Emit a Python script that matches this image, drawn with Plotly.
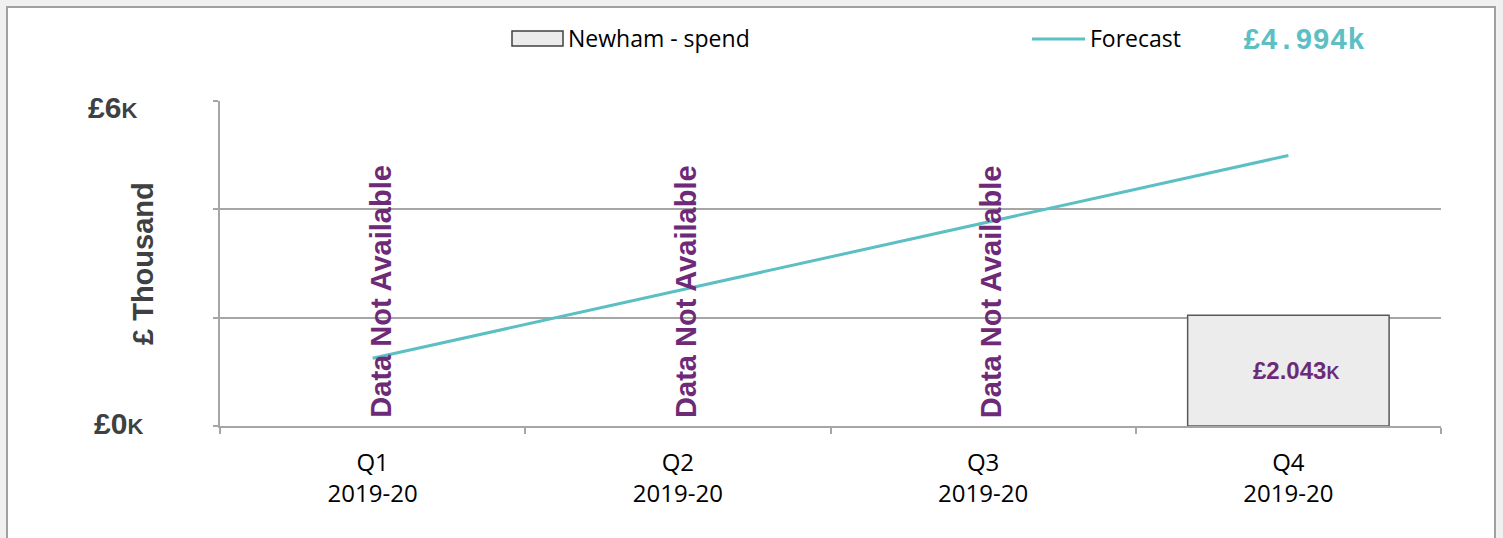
import plotly.graph_objects as go

# ---- data ----
quarters = ["Q1", "Q2", "Q3", "Q4"]
period = "2019-20"
spend = [None, None, None, 2.043]          # £ thousand
forecast = [1.25, 2.50, 3.75, 4.994]       # £ thousand
y_tick_vals = [0, 6]
y_grid_vals = [0, 2, 4, 6]

categories = [f"{q}<br>{period}" for q in quarters]

PURPLE = "#6e2a77"
TEAL = "#5bbfc4"
GRID = "#a6a6a6"
DARK = "#404040"
SANS = "Liberation Sans, Arial, sans-serif"

# plot-area pixel geometry helpers
L, W, T, H = 220, 1221, 101, 325
def px(x):
    return (x - L) / W
def py(y):
    return (T + H - y) / H

fig = go.Figure()

fig.add_trace(go.Bar(
    x=categories, y=spend, width=0.66,
    marker=dict(color="#ececec", line=dict(color="#595959", width=1.5)),
    showlegend=False, hoverinfo="skip",
))
fig.add_trace(go.Scatter(
    x=categories, y=forecast, mode="lines",
    line=dict(color=TEAL, width=3),
    showlegend=False, hoverinfo="skip",
))

annotations = []
shapes = []

# outer frame
shapes.append(dict(type="rect", xref="paper", yref="paper",
                   x0=px(7), x1=px(1495), y0=py(560), y1=py(7),
                   fillcolor="white", line=dict(color="#a0a0a0", width=2),
                   layer="below"))

# "Data Not Available" / value labels
for c, v in zip(categories, spend):
    if v is None:
        annotations.append(dict(
            x=c, y=0, xref="x", yref="y", text="<b>Data Not Available</b>",
            textangle=-90, showarrow=False, xanchor="center", yanchor="bottom",
            xshift=8, yshift=6,
            font=dict(family=SANS, size=29, color=PURPLE)))
    else:
        annotations.append(dict(
            x=c, y=v / 2, xref="x", yref="y",
            text=f"<b>£{v:.3f}<span style='font-size:18px'>K</span></b>",
            showarrow=False, xanchor="center", yanchor="middle", xshift=8,
            font=dict(family=SANS, size=24, color=PURPLE)))

# y tick labels
for v in y_tick_vals:
    annotations.append(dict(
        x=px(145 if v == 0 else 139), y=v, xref="paper", yref="y",
        text=f"<b>£{v}<span style='font-size:22px'>K</span></b>",
        showarrow=False, xanchor="right", yanchor="middle",
        yshift=-6 if v == 6 else 3,
        font=dict(family=SANS, size=30, color=DARK)))

# y title
annotations.append(dict(
    x=px(143), y=py(264), xref="paper", yref="paper",
    text="<b>£ Thousand</b>", textangle=-90, showarrow=False,
    xanchor="center", yanchor="middle",
    font=dict(family=SANS, size=29, color=DARK)))

# manual legend
shapes.append(dict(type="rect", xref="paper", yref="paper",
                   x0=px(512), x1=px(563), y0=py(46), y1=py(31),
                   fillcolor="#ececec", line=dict(color=DARK, width=1.5)))
annotations.append(dict(x=px(566), y=py(38), xref="paper", yref="paper",
                        text="Newham - spend", showarrow=False,
                        xanchor="left", yanchor="middle",
                        font=dict(family="Open Sans", size=23, color="black")))
shapes.append(dict(type="line", xref="paper", yref="paper",
                   x0=px(1032), x1=px(1085), y0=py(39), y1=py(39),
                   line=dict(color=TEAL, width=3)))
annotations.append(dict(x=px(1088), y=py(38), xref="paper", yref="paper",
                        text="Forecast", showarrow=False,
                        xanchor="left", yanchor="middle",
                        font=dict(family="Open Sans", size=23, color="black")))
annotations.append(dict(x=px(1241), y=py(41), xref="paper", yref="paper",
                        text=f"<b>£{forecast[-1]:.3f}k</b>", showarrow=False,
                        xanchor="left", yanchor="middle",
                        font=dict(family="Liberation Mono, DejaVu Sans Mono, monospace",
                                  size=29, color=TEAL)))

fig.update_layout(
    width=1503, height=538,
    margin=dict(l=L, r=1503 - L - W, t=T, b=538 - T - H),
    paper_bgcolor="#f0f0f0",
    plot_bgcolor="rgba(0,0,0,0)",
    showlegend=False,
    annotations=annotations,
    shapes=shapes,
    xaxis=dict(
        type="category", showgrid=False, showline=True, linecolor=GRID, linewidth=1.5,
        ticks="outside", tickson="boundaries", ticklen=6, tickcolor=GRID, tickwidth=1.5,
        tickfont=dict(family="Open Sans", size=24, color="black"),
        ticklabelstandoff=14,
        zeroline=False,
    ),
    yaxis=dict(
        range=[0, 6], tickvals=y_grid_vals, showticklabels=False,
        showgrid=True, gridcolor=GRID, gridwidth=1.5,
        showline=True, linecolor=GRID, linewidth=1.5,
        ticks="outside", ticklen=5, tickcolor=GRID, tickwidth=1.5,
        zeroline=False,
    ),
)

fig.write_html("out.html",
               config={"displayModeBar": False},
               post_script="document.body.style.margin='0';document.body.style.padding='0';")
